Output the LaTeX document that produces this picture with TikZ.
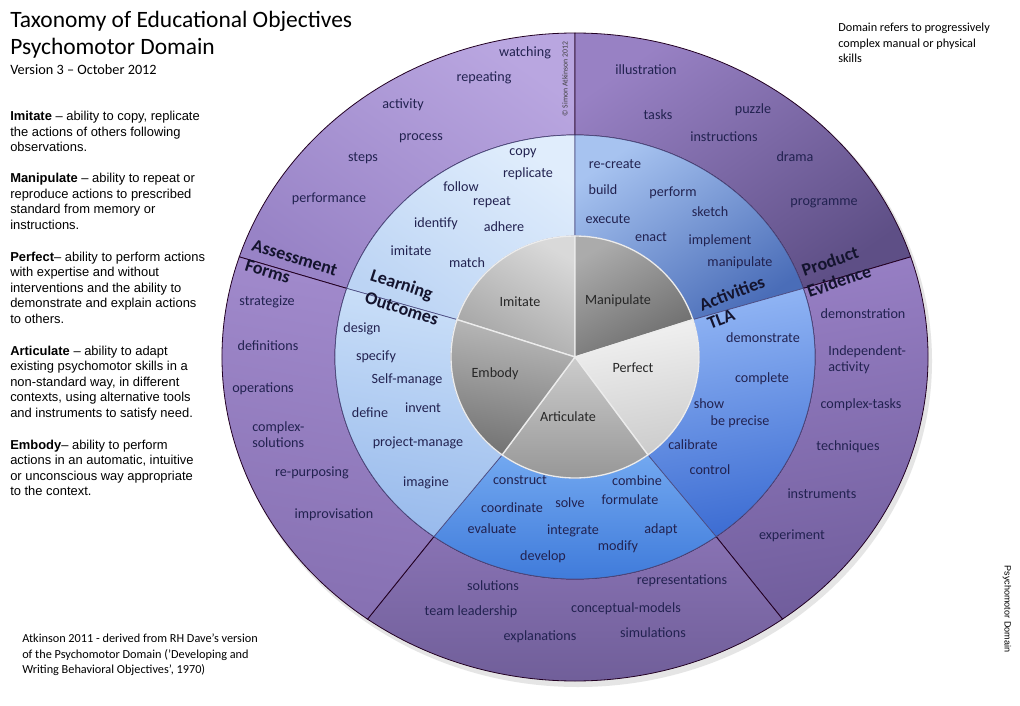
\documentclass[tikz,border=0pt]{standalone}
\usepackage{fontspec}
\setmainfont{Carlito}
\newfontfamily\arialfont{Liberation Sans}
\usepackage{xcolor}
\usepackage{tikz}

\definecolor{wordink}{HTML}{222250}
\definecolor{headink}{HTML}{14142E}
\definecolor{otlA}{HTML}{B9A6E0}
\definecolor{otlB}{HTML}{9883C6}
\definecolor{otrA}{HTML}{9881C4}
\definecolor{otrB}{HTML}{5E4F86}
\definecolor{ortA}{HTML}{977FC4}
\definecolor{ortB}{HTML}{705D9C}
\definecolor{obtA}{HTML}{8872B3}
\definecolor{obtB}{HTML}{6D5C96}
\definecolor{olfA}{HTML}{A18ACC}
\definecolor{olfB}{HTML}{8670B2}
\definecolor{btlA}{HTML}{E0EDFC}
\definecolor{btlB}{HTML}{BCD4F4}
\definecolor{btrA}{HTML}{A7C3F0}
\definecolor{btrB}{HTML}{4A6DB8}
\definecolor{brtA}{HTML}{92B6F5}
\definecolor{brtB}{HTML}{3C6CD2}
\definecolor{bbtA}{HTML}{72A8F0}
\definecolor{bbtB}{HTML}{3A76D8}
\definecolor{blfA}{HTML}{CADFF8}
\definecolor{blfB}{HTML}{98BAEC}

\begin{document}
\begin{tikzpicture}[x=0.75pt,y=-0.75pt,
	word/.style={anchor=mid, inner sep=0pt, text=wordink, font=\fontsize{10.6}{12.7}\selectfont},
	wordpair/.style={anchor=base west, inner sep=0pt, align=left, text=wordink, font=\fontsize{10.6}{12}\selectfont},
	corename/.style={anchor=mid, inner sep=0pt, text=black!85, font=\fontsize{10.6}{12.7}\selectfont},
	ringname/.style={anchor=mid, inner sep=0pt, text=headink, font=\fontsize{13.5}{16}\selectfont\bfseries},
	defn/.style={anchor=base west, inner sep=0pt, align=left, font=\arialfont\fontsize{9.7}{11.55}\selectfont},
	note/.style={anchor=base west, inner sep=0pt, align=left, font=\fontsize{9.2}{11.5}\selectfont},
	outerline/.style={draw=black!55!violet!60!black, line width=0.6pt},
	blueline/.style={draw=blue!30!black!70, line width=0.5pt},
	coreline/.style={draw=white!85!gray, line width=1pt}]

	\fill[white] (0,0) rectangle (1020,706);
	\useasboundingbox (0,0) rectangle (1020,706);

	\coordinate (centre) at (575,357);
	\fill[black!10] (578,361) ellipse [x radius=354, y radius=326];

	\begin{scope}[shift={(centre)}]
		\foreach \a/\b/\ca/\cb/\g in {
			-162/-90/otlA/otlB/-35,
			-90/-18/otrA/otrB/35,
			-18/54/ortA/ortB/10,
			54/126/obtA/obtB/0,
			126/198/olfA/olfB/-10
		}{
			\path[outerline, top color=\ca, bottom color=\cb, shading angle=\g]
				({353*cos(\a)},{324*sin(\a)}) arc[start angle=\a, end angle=\b, x radius=353, y radius=324]
				-- ({240*cos(\b)},{222*sin(\b)}) arc[start angle=\b, end angle=\a, x radius=240, y radius=222] -- cycle;
		}
		\foreach \a/\b/\ca/\cb/\g in {
			-162/-90/btlA/btlB/-35,
			-90/-18/btrA/btrB/35,
			-18/54/brtA/brtB/10,
			54/126/bbtA/bbtB/0,
			126/198/blfA/blfB/-10
		}{
			\path[blueline, top color=\ca, bottom color=\cb, shading angle=\g]
				({240*cos(\a)},{222*sin(\a)}) arc[start angle=\a, end angle=\b, x radius=240, y radius=222]
				-- ({124*cos(\b)},{121*sin(\b)}) arc[start angle=\b, end angle=\a, x radius=124, y radius=121] -- cycle;
		}
		\foreach \a/\b/\ca/\cb/\g in {
			-162/-90/black!15/black!36/-30,
			-90/-18/black!33/black!58/30,
			-18/54/black!5/black!20/10,
			54/126/black!20/black!42/0,
			126/198/black!27/black!55/-10
		}{
			\path[coreline, top color=\ca, bottom color=\cb, shading angle=\g]
				(0,0) -- ({124*cos(\a)},{121*sin(\a)}) arc[start angle=\a, end angle=\b, x radius=124, y radius=121] -- cycle;
		}
	\end{scope}

	% headings
	\node[anchor=base west, inner sep=0pt, font=\fontsize{17.6}{20}\selectfont] (title1) at (10,28) {Taxonomy of Educational Objectives};
	\node[anchor=base west, inner sep=0pt, font=\fontsize{17.6}{20}\selectfont] (title2) at (10,55) {Psychomotor Domain};
	\node[anchor=base west, inner sep=0pt, font=\fontsize{10.7}{12}\selectfont] (version) at (10,75) {Version 3 – October 2012};

	% base = last line of each block
	\node[defn] (imitate) at (10,151.5) {\textbf{Imitate} – ability to copy, replicate\\the actions of others following\\observations.};
	\node[defn] (manipulate) at (10,229) {\textbf{Manipulate} – ability to repeat or\\reproduce actions to prescribed\\standard from memory or\\instructions.};
	\node[defn] (perfect) at (10,323) {\textbf{Perfect}– ability to perform actions\\with expertise and without\\interventions and the ability to\\demonstrate and explain actions\\to others.};
	\node[defn] (articulate) at (10,417) {\textbf{Articulate} – ability to adapt\\existing psychomotor skills in a\\non-standard way, in different\\contexts, using alternative tools\\and instruments to satisfy need.};
	\node[defn] (embody) at (10,495.5) {\textbf{Embody}– ability to perform\\actions in an automatic, intuitive\\or unconscious way appropriate\\to the context.};

	\node[note] (source) at (22,673.5) {Atkinson 2011 - derived from RH Dave's version\\of the Psychomotor Domain ('Developing and\\Writing Behavioral Objectives', 1970)};
	\node[note] (domain) at (838,62.5) {Domain refers to progressively\\complex manual or physical\\skills};
	\node[inner sep=0pt, rotate=-90, font=\arialfont\fontsize{6.8}{8}\selectfont] (sidetag) at (1007,609) {Psychomotor Domain};
	\node[inner sep=0pt, rotate=90, text=black!75, font=\fontsize{5.8}{7}\selectfont] (copyright) at (565,79) {© Simon Atkinson 2012};

	% outer ring
	\foreach \x/\y/\w [count=\i] in {
		525/53/watching, 484/78/repeating, 403/105/activity, 421/137/process, 363/158/steps, 329/199/performance,
		646/71/illustration, 658/116/tasks, 753/110/puzzle, 724/138/instructions, 795/158/drama, 824/202/programme,
		863/315/demonstration, 861/405/complex-tasks, 848/447/techniques, 822/495/instruments, 792/536/experiment,
		493/587/solutions, 471/612/team leadership, 540/637/explanations, 682/581/representations, 626/609/conceptual-models, 653/634/simulations,
		267/302/strategize, 268/347/definitions, 263/389/operations, 312/473/re-purposing, 334/515/improvisation
	}{
		\node[word] (outer\i) at (\x,\y) {\w};
	}
	\node[wordpair] (outerpairR) at (828,371.5) {Independent-\\activity};
	\node[wordpair] (outerpairL) at (252,447.5) {complex-\\solutions};

	% blue ring
	\foreach \x/\y/\w [count=\i] in {
		523/152/copy, 528/174/replicate, 461/188/follow, 492/202/repeat, 436/224/identify, 504/228/adhere, 411/252/imitate, 467/264/match,
		615/165/re-create, 603/191/build, 673/193/perform, 608/220/execute, 710/213/sketch, 651/238/enact, 720/241/implement, 740/263/manipulate,
		763/339/demonstrate, 762/379/complete, 709/405/show, 740/422/be precise, 693/446/calibrate, 710/471/control,
		520/481/construct, 637/482/combine, 512/509/coordinate, 570/504/solve, 630/501/formulate, 492/530/evaluate, 573/531/integrate, 661/530/adapt, 618/547/modify, 543/557/develop,
		362/329/design, 376/357/specify, 407/380/Self-manage, 370/414/define, 423/409/invent, 418/443/project-manage, 426/483/imagine
	}{
		\node[word] (inner\i) at (\x,\y) {\w};
	}

	% core
	\foreach \x/\y/\w in {520/303/Imitate, 618/301/Manipulate, 633/369/Perfect, 568/418/Articulate, 495/374/Embody}{
		\node[corename] (core-\w) at (\x,\y) {\w};
	}

	\node[ringname, rotate=-17] (assess) at (294,260) {Assessment};
	\node[ringname, rotate=-17] (forms) at (267,274) {Forms};
	\node[ringname, rotate=-18] (learning) at (401,287) {Learning};
	\node[ringname, rotate=-18] (outcomes) at (401,311) {Outcomes};
	\node[ringname, rotate=21] (activities) at (733,296) {Activities};
	\node[ringname, rotate=21] (tla) at (722,322) {TLA};
	\node[ringname, rotate=19] (product) at (831,264) {Product};
	\node[ringname, rotate=19] (evidence) at (840,284) {Evidence};
\end{tikzpicture}
\end{document}
